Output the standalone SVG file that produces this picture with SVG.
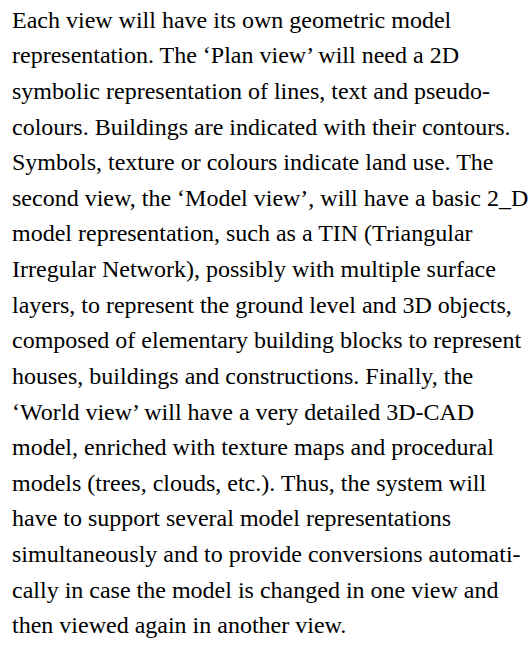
<svg xmlns="http://www.w3.org/2000/svg" width="528" height="645" viewBox="0 0 528 645">
<style>
text{font-family:"Liberation Serif","Times New Roman",serif;font-size:24px;fill:#000}
</style>
<rect width="528" height="645" fill="#fff"/>
<g id="paragraph">
<text x="12" y="27.7">Each view will have its own geometric model</text>
<text x="12" y="63.3">representation. The ‘Plan view’ will need a 2D</text>
<text x="12" y="98.9">symbolic representation of lines, text and pseudo-</text>
<text x="12" y="134.5">colours. Buildings are indicated with their contours.</text>
<text x="12" y="170.2">Symbols, texture or colours indicate land use. The</text>
<text x="12" y="205.8">second view, the ‘Model view’, will have a basic 2_D</text>
<text x="12" y="241.4">model representation, such as a TIN (Triangular</text>
<text x="12" y="277">Irregular Network), possibly with multiple surface</text>
<text x="12" y="312.6">layers, to represent the ground level and 3D objects,</text>
<text x="12" y="348.3">composed of elementary building blocks to represent</text>
<text x="12" y="383.9">houses, buildings and constructions. Finally, the</text>
<text x="12" y="419.5">‘World view’ will have a very detailed 3D-CAD</text>
<text x="12" y="455.1">model, enriched with texture maps and procedural</text>
<text x="12" y="490.7">models (trees, clouds, etc.). Thus, the system will</text>
<text x="12" y="526.4">have to support several model representations</text>
<text x="12" y="562">simultaneously and to provide conversions automati-</text>
<text x="12" y="597.6">cally in case the model is changed in one view and</text>
<text x="12" y="633.2">then viewed again in another view.</text>
</g>
</svg>
